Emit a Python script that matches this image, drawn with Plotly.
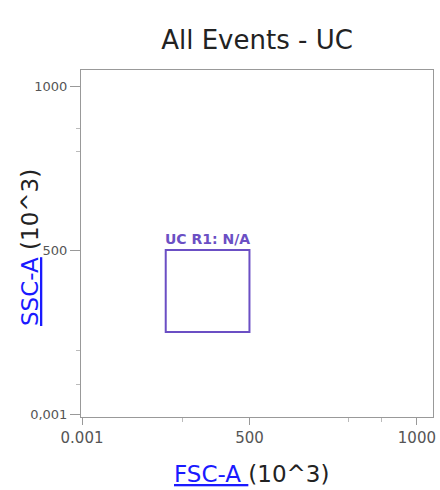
import plotly.graph_objects as go

# Data
title_text = "All Events - UC"
x_param, y_param = "FSC-A", "SSC-A"
unit_label = "(10^3)"
tick_vals = [0.001, 500, 1000]
x_tick_text = ["0.001", "500", "1000"]
y_tick_text = ["0,001", "500", "1000"]
x_minor = [300, 795, 895]
y_minor = [91, 195, 802, 872]
events_x = []
events_y = []
gate_name = "UC R1: N/A"
gate_x = [250, 500]
gate_y = [250, 500]

gate_color = "#6b4fc4"
link_blue = "#1a1aff"

W, H = 440, 490
ML, MR, MT, MB = 81, 7, 70, 73

fig = go.Figure()
fig.add_trace(go.Scatter(x=events_x, y=events_y, mode="markers",
                         marker=dict(size=2, color="#333"), showlegend=False))

fig.add_shape(type="rect", xref="x", yref="y",
              x0=gate_x[0], x1=gate_x[1], y0=gate_y[0], y1=gate_y[1],
              line=dict(color=gate_color, width=2), fillcolor="rgba(0,0,0,0)")
fig.add_annotation(x=gate_x[0], y=gate_y[1], xref="x", yref="y",
                   text="<b>" + gate_name + "</b>", showarrow=False,
                   xanchor="left", yanchor="bottom", xshift=-3, yshift=1,
                   font=dict(family="DejaVu Sans", size=14, color=gate_color))

# Axis titles (placed as annotations for exact positioning)
fig.add_annotation(xref="paper", yref="paper", x=0.483, y=0, yshift=-57,
                   xanchor="center", yanchor="middle", showarrow=False,
                   text="<span style='color:%s'><u>%s </u></span>%s" % (link_blue, x_param, unit_label),
                   font=dict(family="DejaVu Sans", size=23, color="#222"))
fig.add_annotation(xref="paper", yref="paper", x=0, xshift=-51, y=0.487,
                   xanchor="center", yanchor="middle", showarrow=False, textangle=-90,
                   text="<span style='color:%s'><u>%s</u></span> %s" % (link_blue, y_param, unit_label),
                   font=dict(family="DejaVu Sans", size=23, color="#222"))

axis_common = dict(
    tickmode="array", tickvals=tick_vals,
    ticks="outside", tickcolor="#999", tickwidth=1,
    showline=True, linecolor="#999", linewidth=1, mirror=True,
    showgrid=False, zeroline=False, automargin=False,
)

fig.update_layout(
    width=W, height=H,
    paper_bgcolor="white", plot_bgcolor="white",
    margin=dict(l=ML, r=MR, t=MT, b=MB),
    title=dict(text=title_text, x=0.5, xref="paper", xanchor="center",
               y=1 - 40 / H, yref="container", yanchor="middle",
               font=dict(family="DejaVu Sans", size=26, color="#222")),
    xaxis=dict(range=[-3, 1048],
               ticktext=x_tick_text, ticklen=7,
               tickfont=dict(family="DejaVu Sans", size=15, color="#555"),
               minor=dict(tickmode="array", tickvals=x_minor, ticks="outside",
                          ticklen=4, tickcolor="#bbb"),
               **axis_common),
    yaxis=dict(range=[-9, 1049],
               ticktext=y_tick_text, ticklen=10,
               tickfont=dict(family="DejaVu Sans", size=13, color="#555"),
               minor=dict(tickmode="array", tickvals=y_minor, ticks="outside",
                          ticklen=4, tickcolor="#bbb"),
               **axis_common),
)

# Remove the default page margin so the figure fills the 440x490 window exactly.
fig.write_html(
    "out.html",
    config={"displayModeBar": False},
    post_script="document.body.style.margin='0';"
                "document.documentElement.style.overflow='hidden';"
                "document.body.style.overflow='hidden';",
)
